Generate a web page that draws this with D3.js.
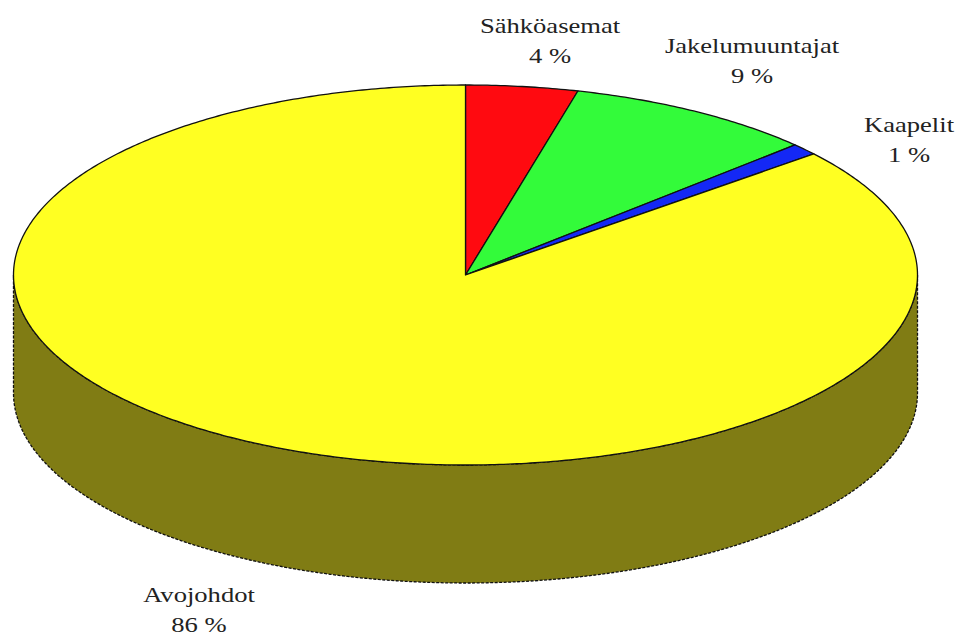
<!DOCTYPE html>
<html>
<head>
<meta charset="utf-8">
<script src="https://cdn.jsdelivr.net/npm/d3@7"></script>
<style>
  html, body { margin: 0; padding: 0; background: #fff; }
  svg { display: block; }
</style>
</head>
<body>
<svg id="chart" width="959" height="637"></svg>
<script>
// Network asset shares (percent)
const categories = ["Sähköasemat", "Jakelumuuntajat", "Kaapelit", "Avojohdot"];
const shares = [4, 9, 1, 86];
const shareLabels = ["4 %", "9 %", "1 %", "86 %"];
const colors = ["#ff0a10", "#33fb3a", "#1428f5", "#ffff22"];
const sideColors = ["#800508", "#1a7d1d", "#0a147a", "#807c14"];

// Label anchors (baseline of the name line, centred)
const labelAnchors = [[550, 33], [752, 53], [909, 132], [199, 602]];

const cx = 465.5, cy = 275, rx = 452, ry = 190, depth = 118;
const FONT = "'Liberation Serif', 'Times New Roman', Times, 'DejaVu Serif', serif";

const svg = d3.select("#chart");

const pie = d3.pie().sort(null).value(d => d.value)
  .startAngle(0).endAngle(2 * Math.PI);
const arcs = pie(categories.map((c, i) => ({ name: c, value: shares[i], i })));

// Projected point on the ellipse for a pie angle (0 = up, clockwise)
const px = a => cx + rx * Math.sin(a);
const py = (a, dz = 0) => cy - ry * Math.cos(a) + dz;

function sample(a0, a1, dz) {
  const n = Math.max(2, Math.ceil(Math.abs(a1 - a0) / 0.01));
  const pts = [];
  for (let k = 0; k <= n; k++) {
    const a = a0 + (a1 - a0) * k / n;
    pts.push([px(a), py(a, dz)]);
  }
  return pts;
}
const line = d3.line();

// Side walls: only the front half (angles between 90° and 270°) faces the viewer
const front0 = Math.PI / 2, front1 = 3 * Math.PI / 2;
const sideG = svg.append("g");
arcs.forEach(d => {
  const a0 = Math.max(d.startAngle, front0), a1 = Math.min(d.endAngle, front1);
  if (a1 <= a0) return;
  const top = sample(a0, a1, 0);
  const bottom = sample(a1, a0, depth);
  sideG.append("path")
    .attr("d", line(top.concat(bottom)) + "Z")
    .attr("fill", sideColors[d.data.i])
    .attr("stroke", "#111")
    .attr("stroke-width", 1.3)
    .attr("stroke-dasharray", "3,1.5");
});

// Top faces
const topG = svg.append("g");
arcs.forEach(d => {
  const pts = [[cx, cy]].concat(sample(d.startAngle, d.endAngle, 0));
  topG.append("path")
    .attr("d", line(pts) + "Z")
    .attr("fill", colors[d.data.i])
    .attr("stroke", "#111")
    .attr("stroke-width", 1.3)
    .attr("stroke-linejoin", "round");
});

// Labels: name above, share below
const labG = svg.append("g");
arcs.forEach(d => {
  const [lx, ly] = labelAnchors[d.data.i];
  const g = labG.append("g").attr("transform", `translate(${lx},${ly}) scale(1.33,1)`);
  g.append("text").attr("text-anchor", "middle").attr("y", 0)
    .attr("font-family", FONT).attr("font-size", 20).attr("fill", "#222")
    .text(d.data.name);
  g.append("text").attr("text-anchor", "middle").attr("y", 30)
    .attr("font-family", FONT).attr("font-size", 20).attr("fill", "#222")
    .text(shareLabels[d.data.i]);
});
</script>
</body>
</html>
